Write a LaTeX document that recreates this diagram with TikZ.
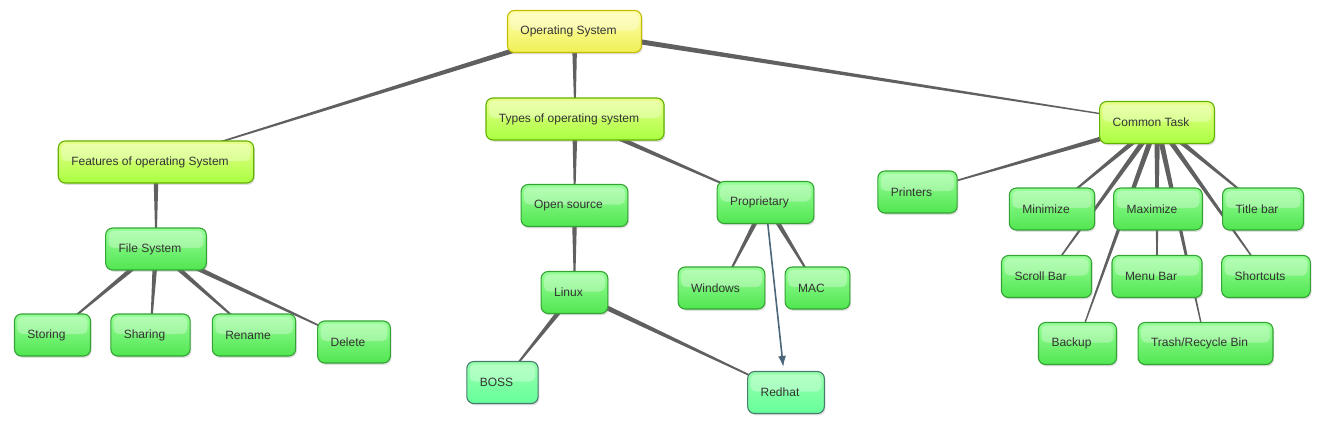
\documentclass[tikz,border=0pt]{standalone}
\usepackage{fontspec}
\setmainfont{Liberation Sans}
\usepackage{tikz}
\usetikzlibrary{calc,backgrounds,shadows,arrows.meta}
\definecolor{linkgray}{HTML}{606060}
\definecolor{arrowblue}{HTML}{4C6679}
\definecolor{txtgray}{HTML}{333333}
\tikzset{
  bx/.style={draw, line width=1.1pt, rounded corners=7pt, minimum height=42pt,
             inner xsep=13pt, font=\fontsize{12}{14}\selectfont, text=txtgray,
             execute at end node=\hspace{12pt},
             drop shadow={shadow xshift=1.2pt, shadow yshift=-1.8pt, opacity=0.25},
             path picture={\fill[white, opacity=0.3, rounded corners=5pt]
               ($(path picture bounding box.north west)+(3pt,-3pt)$) rectangle
               ($(path picture bounding box.east)+(-3pt,1pt)$);}},
  raiz/.style={bx, top color=yellow!30!white, bottom color=yellow!80!olive!60, draw=yellow!50!olive},
  ramo/.style={bx, top color=green!20!yellow!45!white, bottom color=green!45!yellow!75, draw=green!45!yellow!70!black},
  folha/.style={bx, top color=green!40!white, bottom color=green!65!white!90!black, draw=green!55!black!80},
  agua/.style={bx, top color=cyan!20!green!40!white, bottom color=cyan!35!green!60!white, draw=cyan!40!green!55!black},
  seta/.style={-{Latex[length=11pt, width=8pt]}, arrowblue, line width=1.6pt, shorten >=4pt},
}
% ligacao afunilada: grossa no pai, fina no filho
\newcommand{\taper}[2]{%
  \fill[linkgray] ($(#1)!2.8pt!90:(#2)$) -- ($(#2)!0.45pt!-90:(#1)$)
    -- ($(#2)!0.45pt!90:(#1)$) -- ($(#1)!2.8pt!-90:(#2)$) -- cycle;}

\begin{document}
\begin{tikzpicture}[x=1pt,y=-1pt]
    \useasboundingbox (0,0) rectangle (1322,424);

    %% ---------- raiz ----------
    \node[raiz] (os) at (574.5,31.5) {Operating System};

    %% ---------- ramos ----------
    \node[ramo] (feat)  at (156,162)    {Features of operating System};
    \node[ramo] (types) at (575,119)    {Types of operating system};
    \node[ramo] (ct)    at (1157,122.5) {Common Task};

    %% ---------- sistema de arquivos ----------
    \node[folha] (filesys) at (156,249)   {File System};
    \node[folha] (storing) at (52.5,335)  {Storing};
    \node[folha] (sharing) at (150.5,335) {Sharing};
    \node[folha] (rename)  at (254,335)   {Rename};
    \node[folha] (delete)  at (354,342)   {Delete};

    %% ---------- tipos ----------
    \node[folha] (opensrc) at (574.5,205.5) {Open source};
    \node[folha] (prop)    at (765.5,202.5) {Proprietary};
    \node[folha] (linux)   at (574.5,292.5) {Linux};
    \node[folha] (windows) at (721.5,288)   {Windows};
    \node[folha] (mac)     at (817.5,288)   {MAC};
    \node[agua]  (boss)    at (502.5,382.5) {BOSS};
    \node[agua]  (redhat)  at (786,392.5)   {Redhat};

    %% ---------- tarefas comuns ----------
    \node[folha] (printers)  at (917.5,192)    {Printers};
    \node[folha] (minimize)  at (1052,209)     {Minimize};
    \node[folha] (maximize)  at (1158,209)     {Maximize};
    \node[folha] (titlebar)  at (1263,209)     {Title bar};
    \node[folha] (scrollbar) at (1046.5,276.5) {Scroll Bar};
    \node[folha] (menubar)   at (1157,276.5)   {Menu Bar};
    \node[folha] (shortcuts) at (1266,276.5)   {Shortcuts};
    \node[folha] (backup)    at (1077.5,343.5) {Backup};
    \node[folha] (trash)     at (1205.5,343.5) {Trash/Recycle Bin};

    %% ---------- ligacoes (atras das caixas) ----------
    \begin{scope}[on background layer]
      \foreach \p/\c in {os/feat, os/types, os/ct, feat/filesys,
          filesys/storing, filesys/sharing, filesys/rename, filesys/delete,
          types/opensrc, types/prop, opensrc/linux, linux/boss, linux/redhat,
          prop/windows, prop/mac,
          ct/printers, ct/minimize, ct/scrollbar, ct/backup, ct/maximize,
          ct/menubar, ct/trash, ct/titlebar, ct/shortcuts}
        \taper{\p}{\c};
    \end{scope}

    \draw[seta] (prop) -- (redhat);

\end{tikzpicture}
\end{document}
